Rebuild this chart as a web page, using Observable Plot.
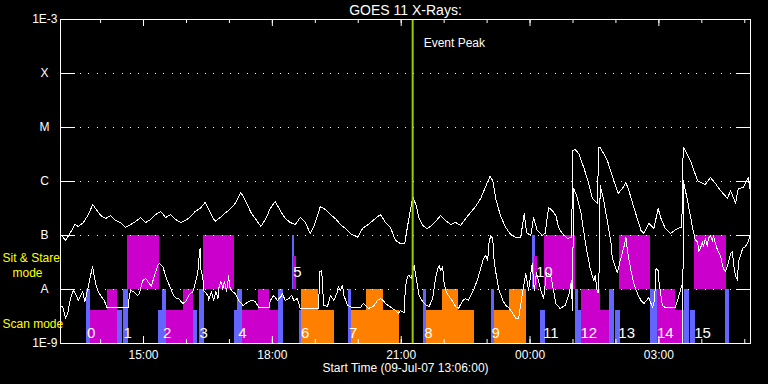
<!DOCTYPE html>
<html><head><meta charset="utf-8">
<script src="https://cdn.jsdelivr.net/npm/d3@7"></script>
<script src="https://cdn.jsdelivr.net/npm/@observablehq/plot@0.6"></script>
<style>html,body{margin:0;padding:0;background:#000;}#chart{width:768px;height:384px;overflow:hidden}svg{display:block}</style>
</head><body><div id="chart"></div>
<script>
// ---------- texts ----------
const titleText = "GOES 11 X-Rays:";
const startLabel = "Start Time (09-Jul-07 13:06:00)";
const eventPeakLabel = "Event Peak";
const sitStareLabel = "Sit & Stare";
const modeLabel = "mode";
const scanLabel = "Scan mode";
const eventPeakTime = "21:16";
const startTime = "13:06";
const xDomain = ["13:04", "05:08"];
const xTickLabels = ["15:00", "18:00", "21:00", "00:00", "03:00"];
const yTickValues = [1e-9, 1e-8, 1e-7, 1e-6, 1e-5, 1e-4, 1e-3];
const yTickLabels = ["1E-9", "A", "B", "C", "M", "X", "1E-3"];
const gridValues = [1e-8, 1e-7, 1e-6, 1e-5, 1e-4];

// ---------- GOES curves: [minutes after 13:06, flux] ----------
// long channel, flux in units of 1e-7 W/m2
const upperCurve = [[0,1.0],[5,0.81],[12,1.14],[18,1.6],[23,1.47],[30,1.74],[37,2.45],[43,3.75],[47,3.16],[54,2.35],[61,2.06],[68,2.35],[75,1.9],[82,1.74],[89,1.41],[96,1.6],[103,1.82],[110,2.15],[117,1.74],[124,1.98],[131,2.45],[138,2.78],[145,2.15],[152,2.45],[159,1.98],[166,1.74],[173,1.9],[180,2.25],[186,2.78],[193,3.16],[200,4.08],[207,2.67],[214,1.82],[221,2.15],[229,2.67],[236,3.16],[243,4.08],[250,6.26],[255,4.84],[264,2.67],[271,1.98],[278,1.47],[285,2.06],[291,3.16],[298,4.26],[305,2.9],[312,2.06],[319,1.74],[326,1.6],[333,2.15],[340,1.74],[347,1.09],[353,1.6],[361,3.44],[368,3.03],[375,2.45],[382,2.06],[389,1.6],[396,1.35],[403,1.09],[413,0.92],[420,1.35],[428,1.6],[438,2.06],[445,2.45],[452,1.74],[459,1.41],[466,0.81],[473,0.71],[479,0.71],[483,1.53],[488,3.59],[490,5.27],[495,3.59],[499,2.06],[504,1.53],[510,1.35],[515,1.47],[521,1.74],[529,2.35],[536,1.9],[543,1.6],[550,1.74],[557,1.53],[564,2.06],[571,2.67],[578,3.44],[585,4.84],[592,8.08],[598,12.4],[602,10.4],[606,4.84],[613,2.25],[620,1.41],[627,1.04],[634,0.92],[641,0.92],[643,1.41],[646,2.56],[649,1.14],[655,1.0],[659,2.15],[664,1.24],[671,1.0],[675,1.09],[680,3.3],[685,2.9],[690,2.35],[694,1.41],[699,1.09],[706,0.88],[712,0.92],[714,37.7],[717,39.3],[722,33.0],[729,18.2],[736,9.18],[741,4.84],[748,3.91],[750,42.8],[752,42.8],[762,24.5],[771,10.4],[777,6.0],[784,7.74],[788,9.58],[792,6.81],[799,3.3],[809,1.24],[813,1.09],[820,1.67],[827,1.35],[833,3.16],[837,2.06],[843,1.35],[850,1.09],[860,1.35],[866,1.41],[868,42.8],[871,37.7],[878,24.5],[888,10.4],[892,9.58],[899,8.8],[906,11.9],[913,9.18],[920,6.81],[930,4.84],[934,6.81],[938,5.07],[941,3.91],[945,7.42],[952,7.74],[959,11.9],[961,7.42]];
// short channel, flux in units of 1e-8 W/m2
const lowerCurve = [[0,0.484],[2,0.445],[5,0.29],[8,0.359],[12,0.681],[16,0.958],[19,0.843],[23,0.626],[29,0.918],[32,0.6],[34,0.774],[37,1.14],[40,1.82],[43,2.67],[44,2.15],[47,1.29],[50,0.958],[54,0.774],[59,0.626],[63,0.464],[93,0.464],[94,0.774],[96,0.958],[100,0.918],[106,0.774],[108,0.843],[113,1.47],[117,1.6],[120,1.41],[125,1.14],[128,1.6],[134,2.78],[136,3.03],[141,2.67],[145,1.74],[149,1.29],[156,0.774],[160,0.681],[163,0.681],[169,0.55],[173,0.6],[177,0.774],[183,0.918],[187,1.41],[190,2.15],[191,3.3],[193,5.75],[194,2.45],[197,1.6],[198,0.958],[204,0.774],[205,0.626],[209,0.918],[212,0.626],[215,0.918],[218,0.681],[219,1.04],[222,1.41],[225,1.04],[227,1.41],[230,0.918],[233,1.82],[234,1.14],[238,0.918],[242,0.843],[247,0.626],[253,0.506],[257,0.55],[261,0.6],[266,0.626],[270,0.6],[275,0.464],[290,0.464],[291,0.626],[296,0.774],[301,0.626],[306,0.742],[308,0.843],[312,0.626],[317,0.681],[321,0.774],[324,0.626],[329,0.681],[333,0.445],[358,0.445],[359,0.681],[360,2.15],[363,2.25],[364,1.14],[366,0.506],[371,0.484],[375,0.774],[380,0.626],[385,0.918],[386,1.14],[389,0.958],[392,1.19],[394,0.774],[399,0.506],[406,0.464],[417,0.464],[421,0.55],[428,0.445],[435,0.484],[441,0.626],[445,0.681],[449,0.626],[452,0.55],[456,0.506],[462,0.445],[466,0.408],[470,0.359],[473,0.408],[478,0.375],[480,1.14],[483,1.74],[485,1.82],[488,1.6],[492,2.78],[495,1.6],[499,0.774],[504,0.6],[509,0.506],[513,0.484],[518,0.681],[522,1.6],[525,2.45],[527,2.78],[529,2.25],[532,2.67],[533,1.6],[536,0.958],[540,0.774],[546,0.6],[550,0.484],[554,0.445],[560,0.626],[564,0.681],[568,0.626],[571,0.774],[575,0.958],[581,1.6],[585,2.45],[589,3.75],[592,4.26],[595,3.44],[596,6.53],[599,10.0],[602,8.8],[603,4.26],[606,2.15],[610,1.04],[616,0.626],[620,0.506],[624,0.464],[630,0.359],[634,0.29],[638,0.29],[644,0.958],[648,1.98],[652,0.958],[657,3.03],[660,0.958],[663,2.06],[669,0.958],[673,0.681],[677,2.06],[683,1.82],[690,0.55],[696,0.445],[703,0.506],[708,0.774],[712,1.47],[713,0.408],[715,74.2],[719,55.0],[725,26.7],[732,6.53],[738,2.45],[743,1.47],[745,1.82],[748,0.88],[750,0.88],[752,84.3],[757,44.5],[763,15.3],[767,7.42],[769,3.75],[776,2.06],[780,3.44],[785,6.0],[788,9.18],[790,5.27],[795,2.25],[799,1.29],[804,0.843],[809,0.626],[813,0.55],[820,0.711],[825,0.464],[828,0.626],[830,2.45],[833,2.25],[834,1.41],[837,0.742],[839,0.506],[843,0.464],[857,0.464],[860,0.626],[864,0.958],[867,1.29],[867.5,0.1],[868,104],[874,44.5],[881,14.1],[885,8.08],[888,7.74],[890,5.07],[892,5.75],[895,7.74],[896,6.26],[899,8.8],[902,6.26],[903,8.8],[906,10.0],[909,7.74],[910,10.0],[916,5.27],[920,4.26],[924,2.45],[927,2.15],[931,3.03],[934,4.64],[937,5.07],[938,3.03],[941,1.82],[944,1.47],[945,3.3],[948,4.26],[951,5.75],[955,6.26],[959,7.74],[961,10.0]];

// ---------- observing blocks: [start, end, colour, height] ----------
const stareBlocks = [
  ["14:38","15:22","magenta","full"],
  ["16:24","17:07","magenta","full"],
  ["18:28","18:31","blue","full"],
  ["18:30","18:34","magenta","part"],
  ["00:03","00:08","blue","full"],
  ["00:06","00:10","magenta","part"],
  ["00:20","01:04","magenta","full"],
  ["02:05","02:48","magenta","full"],
  ["03:50","04:34","magenta","full"]
];
const scanBlocks = [
  ["13:40","13:46","blue","full"],
  ["13:46","14:24","magenta","part"],
  ["14:10","14:24","magenta","full"],
  ["14:24","14:31","blue","part"],
  ["14:32","14:39","blue","full"],
  ["15:21","15:26","blue","part"],
  ["15:26","15:32","blue","full"],
  ["15:32","16:10","magenta","part"],
  ["15:56","16:10","magenta","full"],
  ["16:10","16:15","blue","part"],
  ["16:18","16:25","blue","full"],
  ["17:07","17:11","blue","part"],
  ["17:11","17:18","blue","full"],
  ["17:18","18:09","magenta","part"],
  ["17:41","17:56","magenta","full"],
  ["18:09","18:16","blue","full"],
  ["18:38","18:41","blue","part"],
  ["18:41","19:27","orange","part"],
  ["18:41","19:05","orange","full"],
  ["19:46","19:51","blue","full"],
  ["19:51","20:58","orange","part"],
  ["20:12","20:35","orange","full"],
  ["21:31","21:35","blue","full"],
  ["21:35","22:42","orange","part"],
  ["21:58","22:20","orange","full"],
  ["23:06","23:10","blue","full"],
  ["23:10","23:55","orange","part"],
  ["23:31","23:55","orange","full"],
  ["00:15","00:22","blue","part"],
  ["01:04","01:08","blue","full"],
  ["01:08","01:12","blue","part"],
  ["01:12","01:51","magenta","part"],
  ["01:12","01:38","magenta","full"],
  ["01:51","01:58","blue","full"],
  ["01:59","02:06","blue","part"],
  ["02:48","02:58","blue","full"],
  ["02:58","03:36","magenta","part"],
  ["02:58","03:23","magenta","full"],
  ["03:36","03:43","blue","full"],
  ["03:44","03:51","blue","part"],
  ["04:33","04:39","blue","full"]
];
const passLabels = [["0","13:47","scan"],["1","14:38","scan"],["2","15:33","scan"],["3","16:24","scan"],["4","17:18","scan"],["5","18:35","stare"],["6","18:46","scan"],["7","19:53","scan"],["8","21:38","scan"],["9","23:12","scan"],["10","00:20","stare"],["11","00:29","scan"],["12","01:22","scan"],["13","02:15","scan"],["14","03:09","scan"],["15","04:01","scan"]];

// ---------- helpers ----------
const colours = {magenta: "#cc00cc", blue: "#6464ff", orange: "#ff8000"};
const t = s => { const [h, m] = s.split(":").map(Number); return new Date(Date.UTC(2007, 6, h < 12 ? 10 : 9, h, m)); };
const t0 = t(startTime);
const tm = m => new Date(+t0 + m * 60000);
const bands = {
  stare: {full: [1e-8, 1e-7], part: [1e-8, 4.1e-8]},
  scan: {full: [1e-9, 1e-8], part: [1e-9, 4.1e-9]}
};
const blocks = [
  ...stareBlocks.map(([s, e, c, h]) => ({x1: t(s), x2: t(e), y1: bands.stare[h][0], y2: bands.stare[h][1], fill: colours[c]})),
  ...scanBlocks.map(([s, e, c, h]) => ({x1: t(s), x2: t(e), y1: bands.scan[h][0], y2: bands.scan[h][1], fill: colours[c]}))
];
const upper = upperCurve.map(([m, v]) => ({t: tm(m), v: v * 1e-7}));
const lower = lowerCurve.map(([m, v]) => ({t: tm(m), v: v * 1e-8}));
const labelY = {scan: 1.53e-9, stare: 2.1e-8};
const labels = passLabels.map(([s, time, band]) => ({s, x: t(time), y: labelY[band]}));
const yLabels = yTickValues.map((v, i) => ({v, label: yTickLabels[i]}));
const hourTicks = d3.utcHour.range(t(xDomain[0]), t(xDomain[1]));
const majorTicks = xTickLabels.map(t);
const peak = t(eventPeakTime);
const font = "'Liberation Sans', Arial, sans-serif";

const chart = Plot.plot({
  width: 768, height: 384,
  marginLeft: 60, marginRight: 18, marginTop: 19, marginBottom: 41,
  style: {background: "black", color: "white", fontFamily: font, fontSize: "12px", overflow: "visible"},
  x: {type: "utc", domain: [t(xDomain[0]), t(xDomain[1])]},
  y: {type: "log", domain: [1e-9, 1e-3]},
  color: {type: "identity"},
  marks: [
    Plot.rect(blocks, {x1: "x1", x2: "x2", y1: "y1", y2: "y2", fill: "fill", shapeRendering: "crispEdges"}),
    Plot.ruleY(gridValues, {stroke: "white", strokeDasharray: "1,7.33", insetLeft: 20, insetRight: 15, shapeRendering: "crispEdges"}),
    Plot.line(upper, {x: "t", y: "v", stroke: "white", strokeWidth: 1, shapeRendering: "crispEdges"}),
    Plot.line(lower, {x: "t", y: "v", stroke: "white", strokeWidth: 1, shapeRendering: "crispEdges"}),
    Plot.ruleX([peak], {stroke: "#99cc00", strokeWidth: 2}),
    Plot.frame({stroke: "white", shapeRendering: "crispEdges"}),
    Plot.axisX({anchor: "bottom", ticks: hourTicks, tickSize: 4, dy: -4, fill: null, stroke: "white", label: null}),
    Plot.axisX({anchor: "bottom", ticks: majorTicks, tickSize: 7, dy: -7, fill: null, stroke: "white", label: null}),
    Plot.axisX({anchor: "top", ticks: hourTicks, tickSize: 3, dy: 3, fill: null, stroke: "white", label: null}),
    Plot.axisX({anchor: "top", ticks: majorTicks, tickSize: 6, dy: 6, fill: null, stroke: "white", label: null}),
    Plot.axisY({anchor: "left", ticks: gridValues, tickSize: 15, dx: 15, fill: null, stroke: "white", label: null}),
    Plot.axisY({anchor: "right", ticks: gridValues, tickSize: 15, dx: -15, fill: null, stroke: "white", label: null}),
    Plot.text(yLabels.filter(d => d.label.length > 1), {y: "v", text: "label", frameAnchor: "left", dx: -3, textAnchor: "end", lineAnchor: "middle", fill: "white", fontSize: 12}),
    Plot.text(yLabels.filter(d => d.label.length === 1), {y: "v", text: "label", frameAnchor: "left", dx: -16, textAnchor: "middle", lineAnchor: "middle", fill: "white", fontSize: 12}),
    Plot.text(xTickLabels, {x: d => t(d), text: d => d, frameAnchor: "bottom", dy: 12, lineAnchor: "middle", fill: "white", fontSize: 12}),
    Plot.text([startLabel], {text: d => d, frameAnchor: "bottom", dy: 25, lineAnchor: "middle", fill: "white", fontSize: 12}),
    Plot.text([titleText], {text: d => d, frameAnchor: "top", dy: -9, lineAnchor: "middle", fill: "white", fontSize: 14}),
    Plot.text([eventPeakLabel], {x: () => peak, text: d => d, frameAnchor: "top", dy: 24, dx: 11, textAnchor: "start", lineAnchor: "middle", fill: "white", fontSize: 12}),
    Plot.text(labels, {x: "x", y: "y", text: "s", lineAnchor: "middle", fill: "white", fontSize: 15}),
    Plot.text([sitStareLabel], {y: () => 3.75e-8, text: d => d, frameAnchor: "left", dx: -58, textAnchor: "start", lineAnchor: "middle", fill: "yellow", fontSize: 12}),
    Plot.text([modeLabel], {y: () => 2.0e-8, text: d => d, frameAnchor: "left", dx: -48, textAnchor: "start", lineAnchor: "middle", fill: "yellow", fontSize: 12}),
    Plot.text([scanLabel], {y: () => 2.25e-9, text: d => d, frameAnchor: "left", dx: -58, textAnchor: "start", lineAnchor: "middle", fill: "yellow", fontSize: 12})
  ]
});
document.getElementById("chart").appendChild(chart);
</script>
</body></html>
